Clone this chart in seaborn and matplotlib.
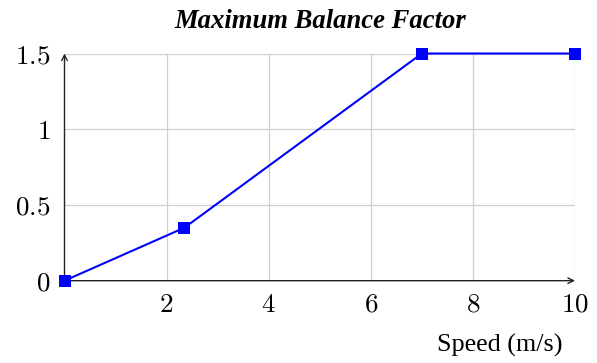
import matplotlib
matplotlib.use("Agg")
import matplotlib.pyplot as plt
import seaborn as sns
import pandas as pd

speed = [0.0, 2.35, 7.0, 10.0]
balance_factor = [0.0, 0.35, 1.5, 1.5]
x_ticks = [2, 4, 6, 8, 10]
y_ticks = [0, 0.5, 1, 1.5]
y_tick_labels = ["0", "0.5", "1", "1.5"]

sns.set_style("white")
plt.rcParams["mathtext.fontset"] = "cm"
plt.rcParams["text.color"] = "black"
plt.rcParams["axes.labelcolor"] = "black"
plt.rcParams["xtick.color"] = "black"
plt.rcParams["ytick.color"] = "black"

df = pd.DataFrame({"speed": speed, "factor": balance_factor})

fig = plt.figure(figsize=(5.97, 3.63), dpi=100)
ax = fig.add_axes([64.5 / 597, (363 - 280.7) / 363, (575 - 64.5) / 597, (280.7 - 53.5) / 363])

sns.lineplot(data=df, x="speed", y="factor", ax=ax, color="#0000ff", linewidth=1.5,
             marker="s", markersize=8.5, markeredgewidth=0, clip_on=False, zorder=5)

ax.set_xlim(0, 10)
ax.set_ylim(0, 1.5)
ax.set_xticks(x_ticks)
ax.set_xticklabels([f"${t}$" for t in x_ticks], fontsize=19.5)
ax.set_yticks(y_ticks)
ax.set_yticklabels([f"${t}$" for t in y_tick_labels], fontsize=19.5)

ax.grid(True, color="#d0d0d0", linewidth=0.9)
ax.set_axisbelow(True)
for s in ax.spines.values():
    s.set_visible(False)
ax.tick_params(axis="both", direction="inout", length=6, width=0.8, color="#555555",
               labelcolor="black")
ax.tick_params(axis="y", pad=7)
ax.tick_params(axis="x", pad=5)

# axis lines with arrowheads
arrow = dict(arrowstyle="->", lw=1.0, color="#222222", shrinkA=0, shrinkB=0,
             mutation_scale=10)
ax.annotate("", xy=(10, 0), xytext=(0, 0), arrowprops=arrow, annotation_clip=False, zorder=4)
ax.annotate("", xy=(0, 1.5), xytext=(0, 0), arrowprops=arrow, annotation_clip=False, zorder=4)

ax.set_xlabel("Speed (m/s)", fontfamily="Liberation Serif", fontsize=18.8, color="black")
ax.xaxis.set_label_coords(0.853, -0.235)
ax.set_ylabel("")

ax.set_title("Maximum Balance Factor", fontfamily="Liberation Serif", fontsize=19.2,
             fontweight="bold", fontstyle="italic", pad=18, color="black")

fig.savefig("out.png", dpi=100)
